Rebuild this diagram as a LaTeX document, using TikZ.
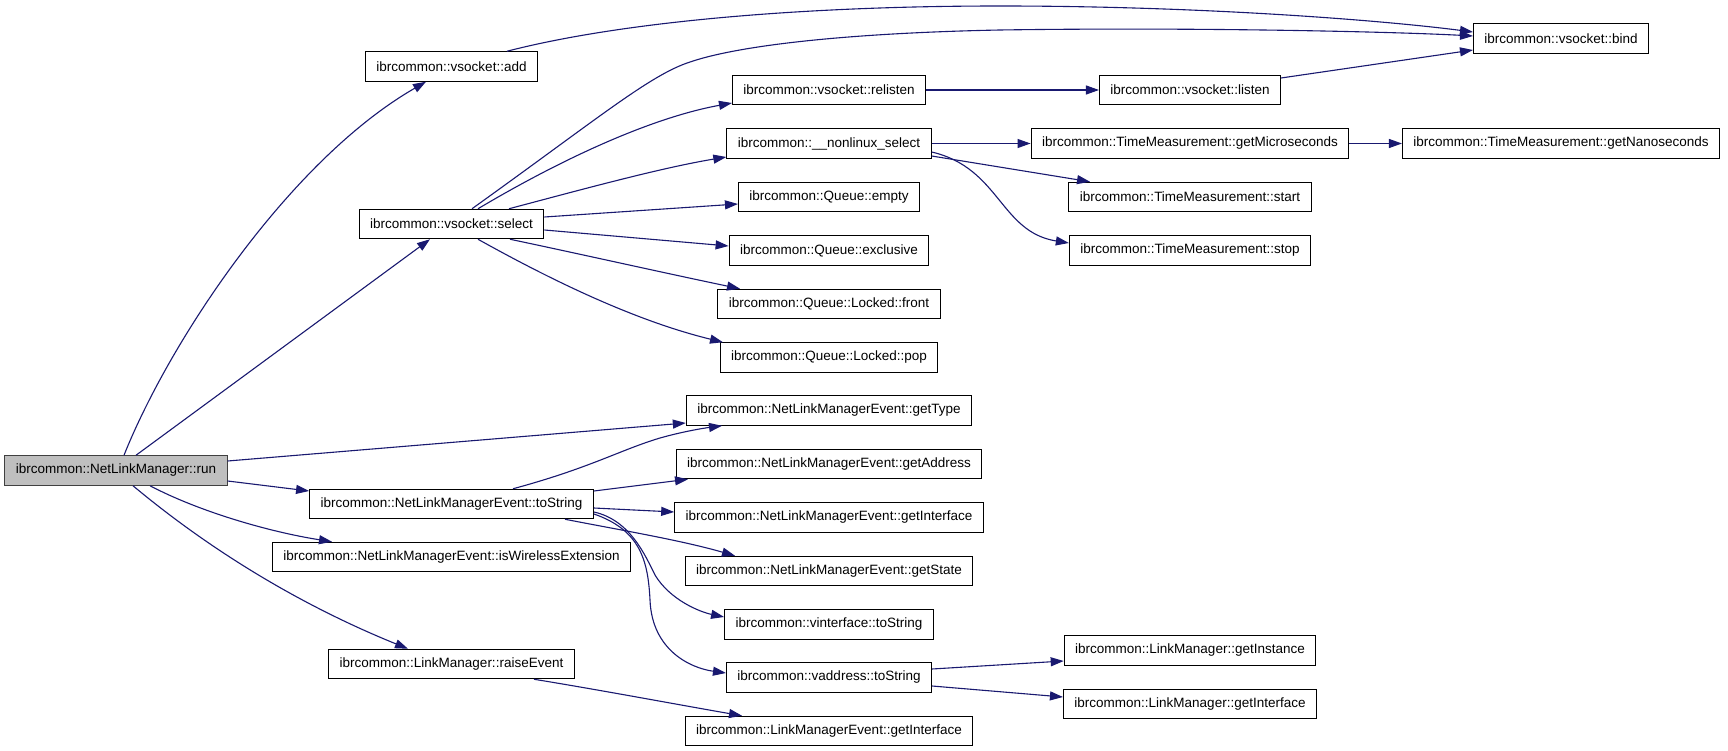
\documentclass[tikz,border=0pt]{standalone}
\usepackage{fontspec}
\setmainfont{Liberation Sans}
\usetikzlibrary{arrows.meta}
\definecolor{edgeblue}{HTML}{191970}
\definecolor{rootfill}{HTML}{BFBFBF}
\begin{document}
\begin{tikzpicture}[x=1pt,y=-1pt,
  box/.style={draw=black, line width=1pt, fill=white, inner xsep=11pt, inner ysep=0pt,
    minimum height=29.5pt, font=\fontsize{13.5}{16}\selectfont, anchor=center},
  root/.style={box, fill=rootfill, draw=black!75},
  edge/.style={draw=edgeblue, line width=1.1pt, -{Triangle[length=13pt,width=9pt]}}]
\useasboundingbox[fill=white] (0,0) rectangle (1728,751);

% rank 0
\node[root] (run) at (116,470.5) {ibrcommon::NetLinkManager::run};
% rank 1
\node[box] (add) at (451.5,66.5) {ibrcommon::vsocket::add};
\node[box] (select) at (451.5,224) {ibrcommon::vsocket::select};
\node[box] (tostr) at (451.5,504) {ibrcommon::NetLinkManagerEvent::toString};
\node[box] (wireless) at (451.5,557) {ibrcommon::NetLinkManagerEvent::isWirelessExtension};
\node[box] (raise) at (451.5,664) {ibrcommon::LinkManager::raiseEvent};
% rank 2
\node[box] (relisten) at (829,90) {ibrcommon::vsocket::relisten};
\node[box] (nonlinux) at (829,143.5) {ibrcommon::\_\_nonlinux\_select};
\node[box] (empty) at (829,197) {ibrcommon::Queue::empty};
\node[box] (excl) at (829,250.5) {ibrcommon::Queue::exclusive};
\node[box] (front) at (829,304) {ibrcommon::Queue::Locked::front};
\node[box] (pop) at (829,357.5) {ibrcommon::Queue::Locked::pop};
\node[box] (gettype) at (829,410.5) {ibrcommon::NetLinkManagerEvent::getType};
\node[box] (getaddr) at (829,464) {ibrcommon::NetLinkManagerEvent::getAddress};
\node[box] (getif) at (829,517.5) {ibrcommon::NetLinkManagerEvent::getInterface};
\node[box] (getstate) at (829,571) {ibrcommon::NetLinkManagerEvent::getState};
\node[box] (vif) at (829,624.5) {ibrcommon::vinterface::toString};
\node[box] (vaddr) at (829,677.5) {ibrcommon::vaddress::toString};
\node[box] (lmeif) at (829,731) {ibrcommon::LinkManagerEvent::getInterface};
% rank 3
\node[box] (listen) at (1190,90) {ibrcommon::vsocket::listen};
\node[box] (micro) at (1190,143.5) {ibrcommon::TimeMeasurement::getMicroseconds};
\node[box] (start) at (1190,197) {ibrcommon::TimeMeasurement::start};
\node[box] (stop) at (1190,250.5) {ibrcommon::TimeMeasurement::stop};
\node[box] (inst) at (1190,650.5) {ibrcommon::LinkManager::getInstance};
\node[box] (lmif) at (1190,704) {ibrcommon::LinkManager::getInterface};
% rank 4
\node[box] (bind) at (1561,38.5) {ibrcommon::vsocket::bind};
\node[box] (nano) at (1561,143.5) {ibrcommon::TimeMeasurement::getNanoseconds};

% edges from run
\draw[edge] (124,0 |- run.north) .. controls (170,340) and (290,160) .. (426,0 |- add.south);
\draw[edge] (136,0 |- run.north) -- (430,0 |- select.south);
\draw[edge] (run.east |- 0,461) -- (gettype.west |- 0,423);
\draw[edge] (run.east |- 0,481) -- (tostr.west |- 0,491);
\draw[edge] (150,0 |- run.south) .. controls (200,512) and (270,532) .. (332,0 |- wireless.north);
\draw[edge] (133,0 |- run.south) .. controls (210,550) and (300,605) .. (408,0 |- raise.north);

% edges to bind
\draw[edge] (507,0 |- add.north) .. controls (620,22) and (800,6) .. (1000,6)
  .. controls (1200,6) and (1380,20) .. (bind.west |- 0,32);
\draw[edge] (472,0 |- select.north) .. controls (600,117) and (650,75) .. (690,62)
  .. controls (740,45) and (850,33) .. (1000,30)
  .. controls (1200,27) and (1400,32) .. (bind.west |- 0,36);
\draw[edge] (listen.east |- 0,78) -- (bind.west |- 0,50);

% edges from select
\draw[edge] (478,0 |- select.north) .. controls (560,160) and (650,118) .. (relisten.west |- 0,103);
\draw[edge] (509,0 |- select.north) .. controls (580,190) and (660,168) .. (nonlinux.west |- 0,157);
\draw[edge] (select.east |- 0,217) -- (empty.west |- 0,204);
\draw[edge] (select.east |- 0,230) -- (excl.west |- 0,246);
\draw[edge] (510,0 |- select.south) .. controls (580,254) and (660,272) .. (740,0 |- front.north);
\draw[edge] (478,0 |- select.south) .. controls (560,285) and (640,322) .. (723,0 |- pop.north);

% rank 2 -> rank 3/4
\draw[edge] (relisten.east) -- (listen.west);
\draw[edge] (nonlinux.east) -- (micro.west);
\draw[edge] (micro.east) -- (nano.west);
\draw[edge] (nonlinux.east |- 0,156) -- (1090,0 |- start.north);
\draw[edge] (nonlinux.east |- 0,152) .. controls (1000,168) and (1000,232) .. (stop.west |- 0,243);

% edges from toString
\draw[edge] (513,0 |- tostr.north) .. controls (590,468) and (620,450) .. (660,438)
  .. controls (685,431) and (705,428) .. (722,0 |- gettype.south);
\draw[edge] (tostr.east |- 0,491) -- (688,0 |- getaddr.south);
\draw[edge] (tostr.east |- 0,508) -- (getif.west |- 0,512);
\draw[edge] (565,0 |- tostr.south) .. controls (620,530) and (680,540) .. (735,0 |- getstate.north);
\draw[edge] (tostr.east |- 0,512) .. controls (630,520) and (645,555) .. (655,575)
  .. controls (670,600) and (700,612) .. (vif.west |- 0,617);
\draw[edge] (tostr.east |- 0,514) .. controls (640,530) and (648,560) .. (650,600)
  .. controls (652,650) and (690,668) .. (vaddr.west |- 0,673);

% raiseEvent, vaddress
\draw[edge] (534,0 |- raise.south) .. controls (600,690) and (680,705) .. (742,0 |- lmeif.north);
\draw[edge] (vaddr.east |- 0,669) -- (inst.west |- 0,661);
\draw[edge] (vaddr.east |- 0,686) -- (lmif.west |- 0,697);
\end{tikzpicture}
\end{document}
